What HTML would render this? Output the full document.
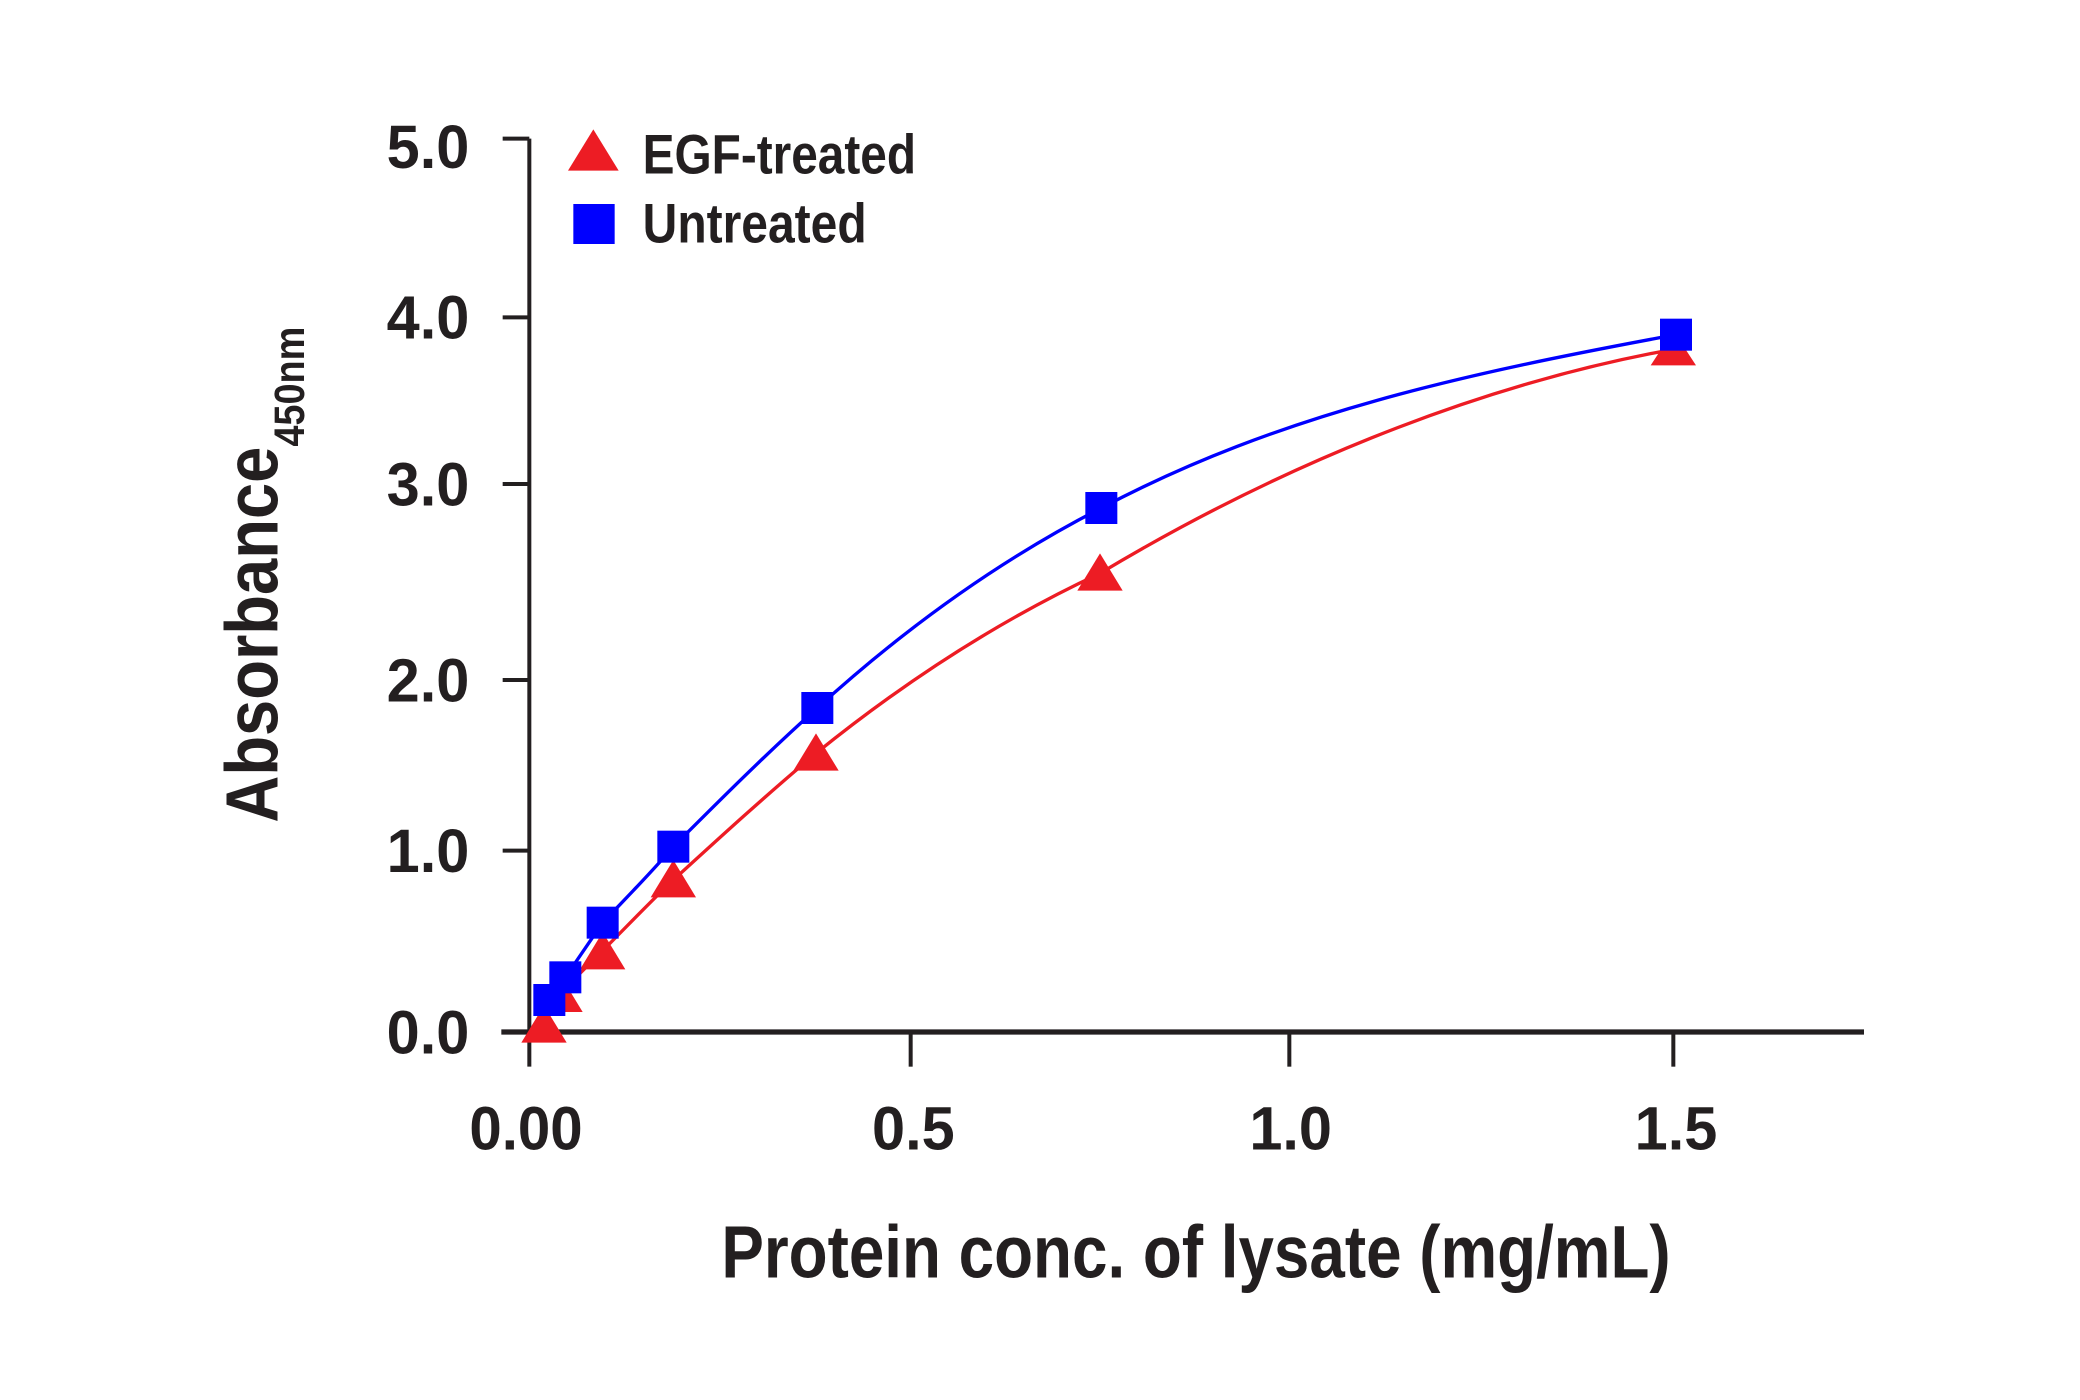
<!DOCTYPE html>
<html><head><style>html,body{margin:0;padding:0;background:#fff;}svg{display:block;}
text{font-family:"Liberation Sans Narrow","Liberation Sans",sans-serif;font-weight:bold;fill:#231f20;}</style></head>
<body>
<svg width="2080" height="1400" viewBox="0 0 1560 1050" preserveAspectRatio="none" xmlns="http://www.w3.org/2000/svg">
<g stroke="#231f20" stroke-width="3" fill="none">
<line x1="397" y1="104" x2="397" y2="800"/>
<line x1="376" y1="774" x2="1398" y2="774" stroke-width="4"/>
<line x1="377" y1="104" x2="397" y2="104"/>
<line x1="377" y1="238" x2="397" y2="238"/>
<line x1="377" y1="363" x2="397" y2="363"/>
<line x1="377" y1="510" x2="397" y2="510"/>
<line x1="377" y1="638" x2="397" y2="638"/>
<line x1="683" y1="774" x2="683" y2="800"/>
<line x1="967" y1="774" x2="967" y2="800"/>
<line x1="1255" y1="774" x2="1255" y2="800"/>
</g>
<g font-size="46" text-anchor="end">
<text x="352" y="126" textLength="62" lengthAdjust="spacingAndGlyphs">5.0</text>
<text x="352" y="254" textLength="62" lengthAdjust="spacingAndGlyphs">4.0</text>
<text x="352" y="379" textLength="62" lengthAdjust="spacingAndGlyphs">3.0</text>
<text x="352" y="526" textLength="62" lengthAdjust="spacingAndGlyphs">2.0</text>
<text x="352" y="654" textLength="62" lengthAdjust="spacingAndGlyphs">1.0</text>
<text x="352" y="790" textLength="62" lengthAdjust="spacingAndGlyphs">0.0</text>
</g>
<g font-size="46">
<text x="352" y="862" textLength="85" lengthAdjust="spacingAndGlyphs">0.00</text>
<text x="654" y="862" textLength="62" lengthAdjust="spacingAndGlyphs">0.5</text>
<text x="937" y="862" textLength="62" lengthAdjust="spacingAndGlyphs">1.0</text>
<text x="1226" y="862" textLength="62" lengthAdjust="spacingAndGlyphs">1.5</text>
</g>
<text x="541" y="958" font-size="56" textLength="712" lengthAdjust="spacingAndGlyphs">Protein conc. of lysate (mg/mL)</text>
<text transform="translate(208,617) rotate(-90)" font-size="56"><tspan textLength="282" lengthAdjust="spacingAndGlyphs">Absorbance</tspan><tspan font-size="32" dy="20" textLength="90" lengthAdjust="spacingAndGlyphs">450nm</tspan></text>
<path d="M408,768 L420,745 L452,713 C470,695 488,676 505,660 C540,628 575,596 612,565 C680,510 750,465 825,430 C950,355 1100,290 1255,262" fill="none" stroke="#ed1c24" stroke-width="2.5"/>
<path d="M412,750 L424,733 L452,692 C470,673 488,655 505,635 C540,600 575,565 613,531 C680,470 750,420 826,381 C960,310 1100,280 1257,251" fill="none" stroke="#0000ff" stroke-width="2.5"/>
<g fill="#ed1c24">
<polygon points="408,754 425,782 391,782"/>
<polygon points="420,731 437,759 403,759"/>
<polygon points="452,699 469,727 435,727"/>
<polygon points="505,645 522,673 488,673"/>
<polygon points="612,550 629,578 595,578"/>
<polygon points="825,415 842,443 808,443"/>
<polygon points="1255,248 1272,274 1238,274"/>
<polygon points="445,97 464,128 426,128"/>
</g>
<g fill="#0000ff">
<rect x="400" y="738" width="24" height="24"/>
<rect x="412" y="721" width="24" height="24"/>
<rect x="440" y="680" width="24" height="24"/>
<rect x="493" y="623" width="24" height="24"/>
<rect x="601" y="519" width="24" height="24"/>
<rect x="814" y="369" width="24" height="24"/>
<rect x="1245" y="239" width="24" height="24"/>
<rect x="430" y="153" width="31" height="30"/>
</g>
<text x="482" y="130" font-size="42" textLength="205" lengthAdjust="spacingAndGlyphs">EGF-treated</text>
<text x="482" y="182" font-size="42" textLength="168" lengthAdjust="spacingAndGlyphs">Untreated</text>
</svg>
</body></html>
